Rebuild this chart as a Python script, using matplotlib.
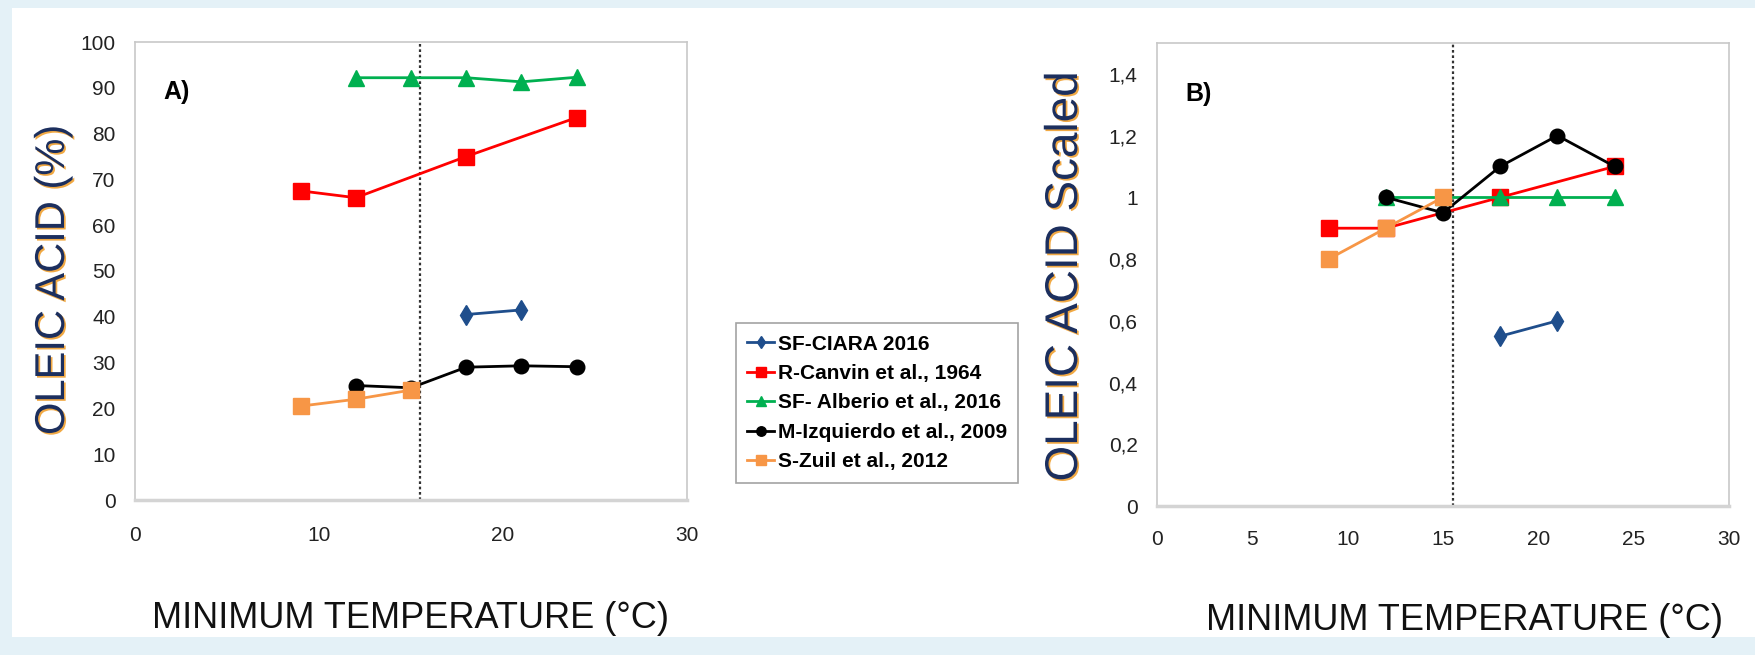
import matplotlib
matplotlib.use("Agg")
import matplotlib.pyplot as plt
import matplotlib.patches as mpatches
import matplotlib.patheffects as pe

# series: (label, colour, marker)
series_names = ["SF-CIARA 2016", "R-Canvin et al., 1964", "SF- Alberio et al., 2016",
                "M-Izquierdo et al., 2009", "S-Zuil et al., 2012"]
series_colors = ["#1f4e8c", "#ff0000", "#00b050", "#000000", "#f79646"]
series_markers = ["d", "s", "^", "o", "s"]

# panel A: oleic acid (%)
ciara_x = [18, 21]
ciara_a = [40.5, 41.5]
canvin_x = [9, 12, 18, 24]
canvin_a = [67.5, 66, 75, 83.5]
alberio_x = [12, 15, 18, 21, 24]
alberio_a = [92.2, 92.2, 92.2, 91.3, 92.3]
izq_x = [12, 15, 18, 21, 24]
izq_a = [25, 24.5, 29, 29.3, 29.1]
zuil_x = [9, 12, 15]
zuil_a = [20.5, 22, 24]

# panel B: scaled oleic acid
ciara_b = [0.55, 0.60]
canvin_b = [0.9, 0.9, 1.0, 1.1]
alberio_b = [1.0, 1.0, 1.0, 1.0, 1.0]
izq_b = [1.0, 0.95, 1.1, 1.2, 1.1]
zuil_b = [0.8, 0.9, 1.0]

threshold_temp = 15.5

font = ["Liberation Sans", "DejaVu Sans"]
ylabel_color = "#1c2f5e"

fig = plt.figure(figsize=(17.55, 6.55), dpi=100)
fig.patch.set_facecolor("#e4f1f7")
fig.patches.append(mpatches.Rectangle((0.007, 0.028), 0.993, 0.96, transform=fig.transFigure,
                                      facecolor="white", edgecolor="none", zorder=-10))

ax_a = fig.add_axes([135 / 1755, 1 - 500 / 655, 552 / 1755, 458 / 655])
ax_b = fig.add_axes([1157 / 1755, 1 - 506 / 655, 572 / 1755, 463 / 655])

xs = [ciara_x, canvin_x, alberio_x, izq_x, zuil_x]
msizes = [10, 11, 11, 10.5, 11]


def draw_panel(ax, ys):
    handles = []
    for x, y, name, c, m, ms in zip(xs, ys, series_names, series_colors, series_markers, msizes):
        h, = ax.plot(x, y, color=c, marker=m, markersize=ms, linewidth=2.0, label=name)
        handles.append(h)
    ax.axvline(threshold_temp, color="#333333", linestyle=(0, (1.2, 1.2)), linewidth=1.6, zorder=1)
    for s in ax.spines.values():
        s.set_color("#c8c8c8")
        s.set_linewidth(1.2)
    ax.spines["bottom"].set_linewidth(2.5)
    ax.spines["bottom"].set_color("#d4d4d4")
    ax.tick_params(length=0, labelsize=15, labelcolor="#222222", pad=14)
    return handles


def set_tick_font(ax):
    for lab in ax.get_xticklabels() + ax.get_yticklabels():
        lab.set_family(font)


handles = draw_panel(ax_a, [ciara_a, canvin_a, alberio_a, izq_a, zuil_a])
ax_a.set_xlim(0, 30)
ax_a.set_ylim(0, 100)
ax_a.set_xticks(range(0, 31, 10))
ax_a.set_yticks(range(0, 101, 10))
set_tick_font(ax_a)
ax_a.tick_params(axis="x", pad=19)

draw_panel(ax_b, [ciara_b, canvin_b, alberio_b, izq_b, zuil_b])
ax_b.set_xlim(0, 30)
ax_b.set_ylim(0, 1.5)
ax_b.set_xticks(range(0, 31, 5))
ax_b.set_yticks([0, 0.2, 0.4, 0.6, 0.8, 1.0, 1.2, 1.4])
ax_b.set_yticklabels(["0", "0,2", "0,4", "0,6", "0,8", "1", "1,2", "1,4"])
set_tick_font(ax_b)
ax_b.tick_params(axis="x", pad=17)

ax_a.text(0.052, 0.875, "A)", transform=ax_a.transAxes, fontsize=18, fontweight="bold",
          family=font)
ax_b.text(0.05, 0.875, "B)", transform=ax_b.transAxes, fontsize=18, fontweight="bold",
          family=font)

# thin orange fringe on the axis titles
fringe = [pe.SimplePatchShadow(offset=(1.2, -1.2), shadow_rgbFace="#f0a030", alpha=0.9),
          pe.Normal()]
fig.text(53 / 1755, 1 - 280 / 655, "OLEIC ACID (%)", rotation=90, ha="center", va="center",
         fontsize=30, color=ylabel_color, family=font, path_effects=fringe)
fig.text(1065 / 1755, 1 - 276 / 655, "OLEIC ACID Scaled", rotation=90, ha="center", va="center",
         fontsize=33, color=ylabel_color, family=font, path_effects=fringe)

fig.text(410 / 1755, 1 - 619 / 655, "MINIMUM TEMPERATURE (°C)", ha="center", va="center",
         fontsize=26, family=font, color="#111111")
fig.text(1464 / 1755, 1 - 620 / 655, "MINIMUM TEMPERATURE (°C)", ha="center", va="center",
         fontsize=26, family=font, color="#111111")

leg = fig.legend(handles=handles, loc="center", bbox_to_anchor=(877 / 1755, 1 - 403 / 655),
                 frameon=True, fancybox=False, shadow=False, handlelength=1.3,
                 handletextpad=0.15, labelspacing=0.5, borderpad=0.55, markerscale=0.65,
                 prop={"family": font, "weight": "bold", "size": 15})
leg.get_frame().set_edgecolor("#8c8c8c")
leg.get_frame().set_linewidth(1.2)

fig.savefig("out.png", dpi=100, facecolor=fig.get_facecolor())
